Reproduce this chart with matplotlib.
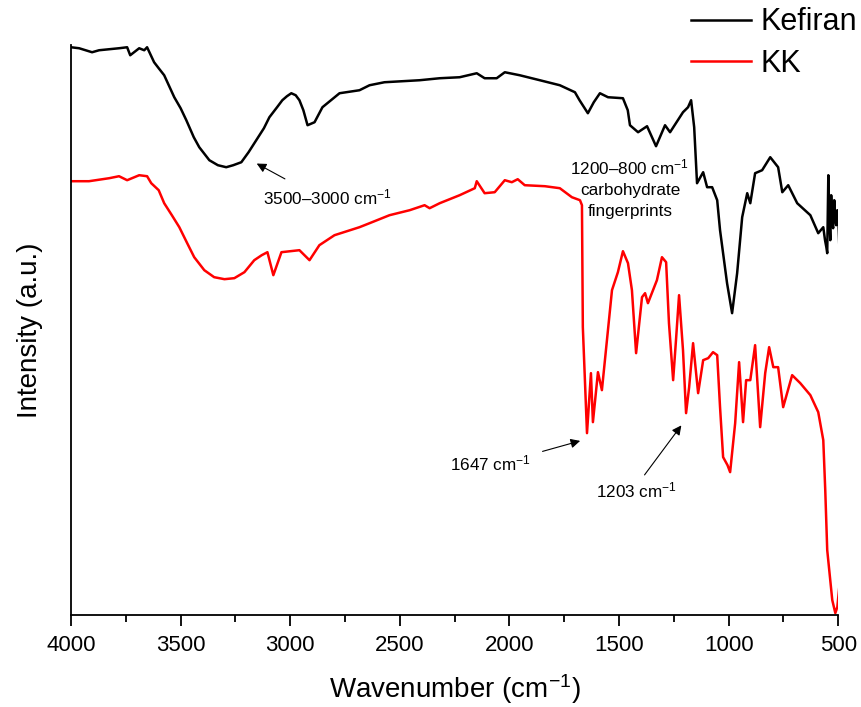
import matplotlib
matplotlib.use("Agg")
import matplotlib.pyplot as plt
from matplotlib.ticker import MultipleLocator

plt.rcParams['font.family'] = ['Liberation Sans', 'DejaVu Sans']
plt.rcParams['mathtext.fontset'] = 'custom'
plt.rcParams['mathtext.rm'] = 'Liberation Sans'
plt.rcParams['mathtext.default'] = 'regular'

# ---- Kefiran spectrum (wavenumber in cm-1, intensity in a.u.)
kef_wn = [4000, 3963, 3904, 3872, 3781, 3744, 3730, 3689, 3666, 3653,
          3621, 3600, 3575, 3529, 3500, 3474, 3440, 3415, 3369, 3330,
          3292, 3260, 3223, 3190, 3155, 3120, 3095, 3060, 3036, 3015,
          2995, 2975, 2958, 2940, 2921, 2889, 2853, 2775, 2684, 2638,
          2570, 2410, 2318, 2227, 2149, 2113, 2058, 2021, 1953, 1861,
          1770, 1701, 1680, 1642, 1615, 1587, 1550, 1482, 1460, 1450,
          1413, 1372, 1331, 1290, 1267, 1208, 1185, 1171, 1157, 1144,
          1116, 1098, 1075, 1052, 1039, 1007, 984, 961, 938, 915,
          901, 879, 847, 810, 774, 755, 728, 687, 627, 591,
          568, 560, 554, 550, 545, 540, 536, 532, 527, 523,
          518, 513, 509, 504, 500, 495]
kef_int = [568, 567, 563, 565, 567, 568, 560, 567, 565, 568,
           553, 547, 540, 518, 507, 495, 478, 468, 455, 450,
           448, 450, 453, 463, 475, 487, 498, 508, 515, 519,
           522, 520, 515, 505, 490, 493, 508, 522, 525, 530,
           533, 535, 537, 538, 542, 537, 537, 543, 540, 535,
           530, 523, 515, 502, 513, 522, 518, 517, 505, 490,
           483, 489, 469, 490, 483, 503, 508, 515, 488, 432,
           443, 428, 428, 415, 385, 332, 302, 342, 398, 422,
           412, 442, 445, 458, 448, 423, 430, 412, 400, 382,
           388, 375, 368, 362, 440, 395, 375, 420, 392, 387,
           415, 395, 390, 405, 400, 370]

# ---- KK spectrum
kk_wn = [4000, 3918, 3826, 3781, 3744, 3689, 3653, 3634, 3600, 3575,
         3540, 3506, 3470, 3438, 3392, 3347, 3300, 3255, 3209, 3164,
         3130, 3104, 3077, 3040, 2958, 2912, 2867, 2798, 2684, 2638,
         2547, 2455, 2387, 2364, 2318, 2227, 2158, 2149, 2113, 2067,
         2021, 1989, 1962, 1930, 1838, 1770, 1715, 1678, 1669, 1665,
         1646, 1628, 1619, 1596, 1578, 1555, 1532, 1505, 1482, 1459,
         1441, 1422, 1395, 1381, 1368, 1327, 1304, 1285, 1272, 1253,
         1240, 1226, 1208, 1194, 1180, 1162, 1139, 1116, 1093, 1071,
         1052, 1039, 1025, 1005, 993, 970, 952, 934, 920, 901,
         879, 856, 833, 815, 796, 774, 751, 710, 673, 627,
         591, 568, 559, 550, 527, 513, 504, 495]
kk_int = [434, 434, 437, 439, 435, 440, 439, 432, 425, 412,
          400, 388, 372, 358, 345, 338, 336, 337, 343, 355,
          360, 363, 340, 363, 365, 355, 370, 380, 388, 392,
          400, 405, 410, 407, 412, 420, 427, 434, 422, 423,
          435, 433, 436, 430, 429, 427, 418, 415, 410, 288,
          182, 242, 193, 243, 225, 275, 325, 343, 364, 352,
          325, 262, 318, 322, 312, 335, 358, 353, 292, 235,
          275, 320, 265, 202, 228, 272, 222, 255, 257, 263,
          260, 208, 158, 150, 143, 192, 253, 193, 235, 235,
          270, 188, 242, 268, 248, 248, 208, 240, 232, 220,
          203, 175, 125, 65, 15, 2, 8, 28]

fig = plt.figure(figsize=(8.61, 7.07), dpi=100)
ax = fig.add_axes([0.0825, 0.130, 0.891, 0.806])

ax.plot(kef_wn, kef_int, color='black', lw=1.8, label='Kefiran',
        solid_joinstyle='round')
ax.plot(kk_wn, kk_int, color='#ff0000', lw=1.8, label='KK',
        solid_joinstyle='round')

ax.set_xlim(4000, 500)
ax.set_ylim(0, 570)
ax.xaxis.set_major_locator(MultipleLocator(500))
ax.xaxis.set_minor_locator(MultipleLocator(250))
ax.set_yticks([])
ax.tick_params(axis='x', which='major', direction='out', length=8, width=1.3,
               labelsize=16, pad=6)
ax.tick_params(axis='x', which='minor', direction='out', length=5, width=1.3)
for s in ['top', 'right']:
    ax.spines[s].set_visible(False)
for s in ['left', 'bottom']:
    ax.spines[s].set_linewidth(1.3)

ax.set_xlabel('Wavenumber (cm$^{-1}$)', fontsize=20, labelpad=12)
ax.set_ylabel('Intensity (a.u.)', fontsize=20, labelpad=20)

arrow = dict(arrowstyle='-|>', color='black', lw=0.8, mutation_scale=14)
ax.annotate('', xy=(3164, 453), xytext=(3013, 435), arrowprops=arrow)
ax.text(2830, 418, '3500–3000 cm$^{-1}$', fontsize=12.3, ha='center', va='center')

ax.text(1450, 427, '1200–800 cm$^{-1}$\ncarbohydrate\nfingerprints', fontsize=12.3,
        ha='center', va='center', linespacing=1.45)

ax.annotate('', xy=(1665, 175), xytext=(1861, 163), arrowprops=arrow)
ax.text(2085, 152, '1647 cm$^{-1}$', fontsize=12.3, ha='center', va='center')

ax.annotate('', xy=(1208, 192), xytext=(1391, 138), arrowprops=arrow)
ax.text(1422, 125, '1203 cm$^{-1}$', fontsize=12.3, ha='center', va='center')

ax.legend(loc='upper right', bbox_to_anchor=(1.041, 1.088), frameon=False,
          fontsize=22, handlelength=1.95, handletextpad=0.33, labelspacing=0.37,
          borderaxespad=0)

fig.savefig('out.png', dpi=100)
